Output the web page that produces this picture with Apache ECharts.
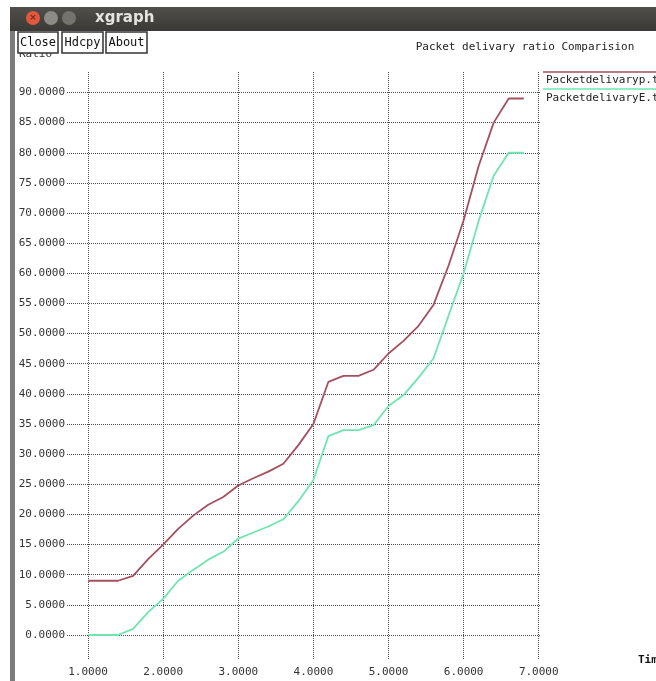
<!DOCTYPE html>
<html>
<head>
<meta charset="utf-8">
<script src="https://cdn.jsdelivr.net/npm/echarts@6/dist/echarts.min.js"></script>
<style>
html,body{margin:0;padding:0;background:#fff;}
#c{width:656px;height:681px;}
</style>
</head>
<body>
<div id="c"></div>
<script>
// ---- data ----
const chartTitle = 'Packet delivary ratio Comparision';
const xTicks = [1, 2, 3, 4, 5, 6, 7];
const yTicks = [0, 5, 10, 15, 20, 25, 30, 35, 40, 45, 50, 55, 60, 65, 70, 75, 80, 85, 90];
const xValues = [1.0, 1.2, 1.4, 1.6, 1.8, 2.0, 2.2, 2.4, 2.6, 2.8, 3.0, 3.2, 3.4, 3.6, 3.8,
                 4.0, 4.2, 4.4, 4.6, 4.8, 5.0, 5.2, 5.4, 5.6, 5.8, 6.0, 6.2, 6.4, 6.6, 6.8];
const seriesNames = ['Packetdelivaryp.tr', 'PacketdelivaryE.tr'];
const valuesP = [9, 9, 9, 9.8, 12.6, 15, 17.6, 19.8, 21.6, 22.9, 24.8, 26, 27.1, 28.4, 31.5,
                 35, 42, 43, 43, 44, 46.7, 48.8, 51.3, 54.8, 61.3, 68.8, 77.8, 85, 89, 89];
const valuesE = [0, 0, 0, 1, 3.8, 6, 9, 10.8, 12.5, 13.8, 16, 17, 18, 19.2, 22.2,
                 25.7, 33, 34, 34, 34.8, 38, 39.8, 42.7, 45.9, 53, 60, 68.7, 76.2, 80, 80];
const colors = ['#a4505f', '#6fe6b0'];

const mono = '"DejaVu Sans Mono", "Liberation Mono", monospace';
const chart = echarts.init(document.getElementById('c'), null, {renderer: 'canvas'});

function pairs(xs, ys) { return xs.map((x, i) => [x, ys[i]]); }

const gridLine = {show: true, lineStyle: {color: '#4a4a4a', width: 1, type: [1, 1]}};

const legendGraphics = [];
seriesNames.forEach((n, i) => {
  legendGraphics.push({type: 'line', z: 50, shape: {x1: 543, y1: 72 + i * 17, x2: 656, y2: 72 + i * 17},
    style: {stroke: colors[i], lineWidth: 1.5}});
  legendGraphics.push({type: 'text', z: 50, x: 546, y: 80 + i * 18,
    style: {text: n, font: '11px ' + mono, fill: '#222', verticalAlign: 'middle'}});
});

chart.setOption({
  animation: false,
  backgroundColor: '#fff',
  grid: {left: 67, top: 72, width: 474, height: 588, containLabel: false, outerBoundsMode: 'none'},
  xAxis: {
    type: 'value', min: 0.72, max: 7.03,
    name: 'Time', nameLocation: 'end', nameGap: 97,
    nameTextStyle: {fontFamily: mono, fontSize: 11, color: '#111', fontWeight: 'bold', verticalAlign: 'middle', padding: [6, 0, 0, 0]},
    axisLine: {show: false, onZero: false},
    axisTick: {show: false, customValues: xTicks},
    axisLabel: {customValues: xTicks, formatter: v => v.toFixed(4), fontFamily: mono, fontSize: 11, color: '#333', margin: 7},
    splitLine: gridLine
  },
  yAxis: {
    type: 'value', min: -4.15, max: 93.4,
    axisLine: {show: false, onZero: false},
    axisTick: {show: false, customValues: yTicks},
    axisLabel: {customValues: yTicks, formatter: v => v.toFixed(4), fontFamily: mono, fontSize: 11, color: '#333', margin: 2},
    splitLine: gridLine
  },
  series: [
    {name: seriesNames[0], type: 'line', data: pairs(xValues, valuesP), showSymbol: false,
     lineStyle: {color: colors[0], width: 1.8}, itemStyle: {color: colors[0]}, z: 3},
    {name: seriesNames[1], type: 'line', data: pairs(xValues, valuesE), showSymbol: false,
     lineStyle: {color: colors[1], width: 1.8}, itemStyle: {color: colors[1]}, z: 3}
  ],
  graphic: [
    // window title bar
    {type: 'rect', z: 40, shape: {x: 10, y: 7, width: 646, height: 24},
     style: {fill: new echarts.graphic.LinearGradient(0, 0, 0, 1, [{offset: 0, color: '#504f4a'}, {offset: 1, color: '#3a3935'}])}},
    {type: 'circle', z: 41, shape: {cx: 33, cy: 18, r: 7}, style: {fill: '#e2583e'}},
    {type: 'text', z: 42, x: 33, y: 18, style: {text: '×', font: 'bold 9px "DejaVu Sans"', fill: '#7a2a1a', align: 'center', verticalAlign: 'middle'}},
    {type: 'circle', z: 41, shape: {cx: 51, cy: 18, r: 7}, style: {fill: '#8c8b86'}},
    {type: 'circle', z: 41, shape: {cx: 69, cy: 18, r: 7}, style: {fill: '#74736e'}},
    {type: 'text', z: 42, x: 95, y: 18, style: {text: 'xgraph', font: 'bold 15px "DejaVu Sans"', fill: '#e4e4e0', verticalAlign: 'middle'}},
    // left window border
    {type: 'rect', z: 40, shape: {x: 10, y: 31, width: 5, height: 650}, style: {fill: '#7c7c7c'}},
    // y-axis name partially hidden under buttons
    {type: 'text', z: 30, x: 19, y: 49, style: {text: 'Ratio', font: '11px ' + mono, fill: '#333'}},
    // buttons
    {type: 'rect', z: 45, shape: {x: 18, y: 32, width: 40, height: 21}, style: {fill: '#fff', stroke: '#333', lineWidth: 1.5}},
    {type: 'text', z: 46, x: 38, y: 43, style: {text: 'Close', font: '12px ' + mono, fill: '#111', align: 'center', verticalAlign: 'middle'}},
    {type: 'rect', z: 45, shape: {x: 62, y: 32, width: 41, height: 21}, style: {fill: '#fff', stroke: '#333', lineWidth: 1.5}},
    {type: 'text', z: 46, x: 82.5, y: 43, style: {text: 'Hdcpy', font: '12px ' + mono, fill: '#111', align: 'center', verticalAlign: 'middle'}},
    {type: 'rect', z: 45, shape: {x: 106, y: 32, width: 41, height: 21}, style: {fill: '#fff', stroke: '#333', lineWidth: 1.5}},
    {type: 'text', z: 46, x: 126.5, y: 43, style: {text: 'About', font: '12px ' + mono, fill: '#111', align: 'center', verticalAlign: 'middle'}},
    // title
    {type: 'text', z: 30, x: 525, y: 47, style: {text: chartTitle, font: '11px ' + mono, fill: '#222', align: 'center', verticalAlign: 'middle'}}
  ].concat(legendGraphics)
});
</script>
</body>
</html>
